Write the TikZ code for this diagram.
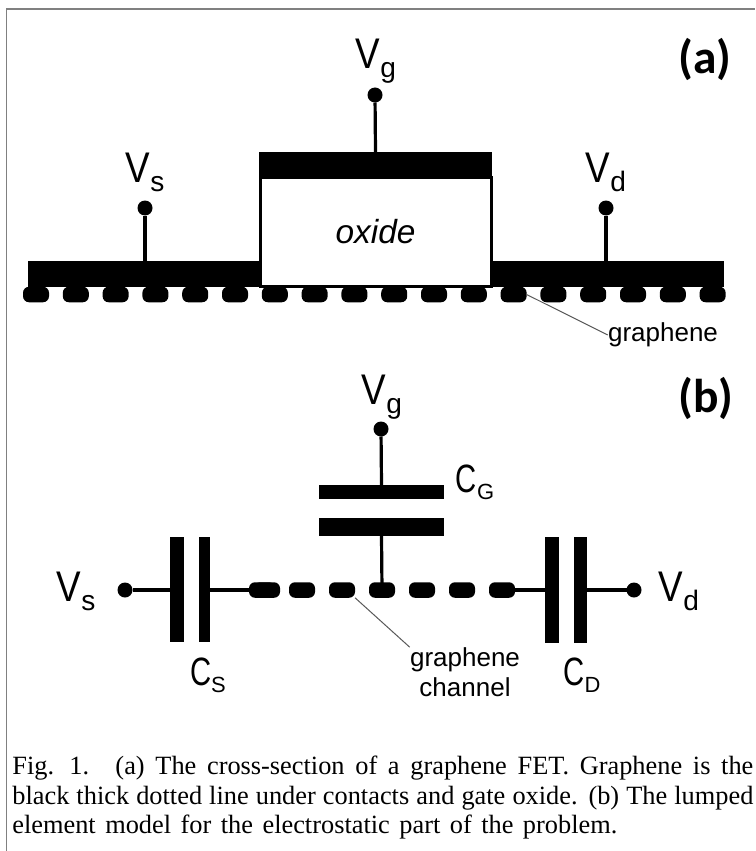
\documentclass[tikz,border=0pt]{standalone}
\usepackage{fontspec}
\usetikzlibrary{calc}
\setmainfont{Liberation Serif}
\newfontfamily\labelfont{Liberation Sans}
\newfontfamily\narrowfont[FakeStretch=0.86]{Liberation Sans}
\newfontfamily\capfont[FakeStretch=0.74]{Liberation Sans}
\newfontfamily\panelfont{Carlito}
\newcommand\sublow[2]{{\narrowfont\fontsize{24.4}{26}\selectfont V}\raisebox{-5pt}{\labelfont\fontsize{#1}{#1}\selectfont #2}}
\newcommand\subcap[1]{{\capfont\fontsize{22.5}{24}\selectfont C}\raisebox{-4pt}{\labelfont\fontsize{12.5}{13}\selectfont #1}}
\def\u{0.02cm}
\tikzset{
	solid block/.style={fill=black, inner sep=0pt, outer sep=0pt},
	bead/.style={solid block, rounded corners=6*\u, minimum width=26*\u, minimum height=15.5*\u},
	pin/.style={circle, solid block, minimum size=15*\u},
	wire/.style={line width=3.2*\u, black},
	leader/.style={line width=1*\u, black!65},
	voltage/.style={inner sep=0pt},
	tag/.style={inner sep=0pt, font=\labelfont\fontsize{14.8}{17}\selectfont, align=center},
	panel/.style={inner sep=0pt, font=\panelfont\bfseries\fontsize{27}{30}\selectfont},
}
\begin{document}
\begin{tikzpicture}[x=\u,y=-\u]
		\useasboundingbox (0,0) rectangle (755,851);
		\fill[white] (0,0) rectangle (755,851);
		\coordinate (fet) at (375,270);
		\coordinate (lumped) at (381,590);

		\draw[line width=1.2*\u, black!50] (6.5,851) -- (6.5,9) -- (755,9);

		\node[panel] (labela) at (705,59) {(a)};
		\node[panel] (labelb) at (706,398) {(b)};

		\node[draw=black, line width=3*\u, fill=white, inner sep=0pt, minimum width=231*\u, minimum height=108*\u,
			font=\labelfont\itshape\fontsize{19}{22}\selectfont] (oxide) at ($(fet)+(0.5,-38)$) {oxide};
		\node[solid block, minimum width=233*\u, minimum height=27*\u] (gate) at ($(fet)+(0.5,-104.5)$) {};
		\node[solid block, minimum width=233*\u, minimum height=26*\u] (source) at ($(fet)+(-230.5,4)$) {};
		\node[solid block, minimum width=233*\u, minimum height=26*\u] (drain) at ($(fet)+(232,4)$) {};

		\foreach \i in {0,...,17}
			\node[bead] (fetbead\i) at ($(fet)+(-339+39.8*\i,24.5)$) {};

		\node[pin] (pinga) at ($(fet)+(0,-175)$) {};
		\node[pin] (pinsa) at ($(fet)+(-230,-62)$) {};
		\node[pin] (pinda) at ($(fet)+(231,-62)$) {};
		\draw[wire] (pinga) -- (gate.north);
		\draw[wire] (pinsa) -- (pinsa |- source.north);
		\draw[wire] (pinda) -- (pinda |- drain.north);

		\node[voltage] (vga) at ($(fet)+(1,-209)$) {\sublow{16}{g}};
		\node[voltage] (vsa) at ($(fet)+(-230,-98)$) {\sublow{16}{s}};
		\node[voltage] (vda) at ($(fet)+(231,-98)$) {\sublow{16}{d}};

		\node[tag] (graphene) at (663,335) {graphene};
		\draw[leader] (fetbead12.east) -- (graphene.west);

		\node[solid block, minimum width=125*\u, minimum height=14*\u] (cgtop) at ($(lumped)+(0.5,-98)$) {};
		\node[solid block, minimum width=125*\u, minimum height=18*\u] (cgbottom) at ($(lumped)+(0.5,-63)$) {};
		\node[solid block, minimum width=14*\u, minimum height=105*\u] (csleft) at (177,589.5) {};
		\node[solid block, minimum width=11*\u, minimum height=105*\u] (csright) at (204.5,589.5) {};
		\node[solid block, minimum width=14*\u, minimum height=106*\u] (cdleft) at (552,590) {};
		\node[solid block, minimum width=13*\u, minimum height=106*\u] (cdright) at (580.5,590) {};

		\foreach \i in {0,...,6}
			\node[bead] (chbead\i) at ($(lumped)+(-119+40*\i,0)$) {};
		\node[bead] (chfirst) at ($(lumped)+(-114,0)$) {};

		\node[pin] (pingb) at ($(lumped)+(0,-161)$) {};
		\node[pin] (pinsb) at (125,590) {};
		\node[pin] (pindb) at (634,590) {};
		\draw[wire] (pingb) -- (cgtop.north);
		\draw[wire] (cgbottom.south) -- (chbead3.center);
		\draw[wire] (pinsb) -- (csleft.west |- pinsb);
		\draw[wire] (csright.east |- pinsb) -- (chbead0.center);
		\draw[wire] (chbead6.center) -- (cdleft.west |- pindb);
		\draw[wire] (cdright.east |- pindb) -- (pindb);

		\node[voltage] (vgb) at (382,397) {\sublow{16}{g}};
		\node[voltage] (vsb) at (76,591) {\sublow{16}{s}};
		\node[voltage] (vdb) at (679,591) {\sublow{16}{d}};
		\node[voltage] (cg) at (475,482) {\subcap{G}};
		\node[voltage] (cs) at (208,675) {\subcap{S}};
		\node[voltage] (cd) at (582,675) {\subcap{D}};

		\node[tag] (channel) at (465,672) {graphene\\channel};
		\draw[leader] (chbead2.south east) -- (channel.north west);

		\node[anchor=north west, inner sep=0pt, text width=741*\u, align=justify,
			font=\fontsize{15}{16.8}\selectfont] (caption) at (12,756) {\spaceskip=0.36em plus 0.2em minus 0.2em\relax Fig. 1.\quad (a) The cross-section of a graphene FET. Graphene is the\linebreak black thick dotted line under contacts and gate oxide. (b) The lumped\linebreak element model for the electrostatic part of the problem.};
	\end{tikzpicture}
\end{document}
